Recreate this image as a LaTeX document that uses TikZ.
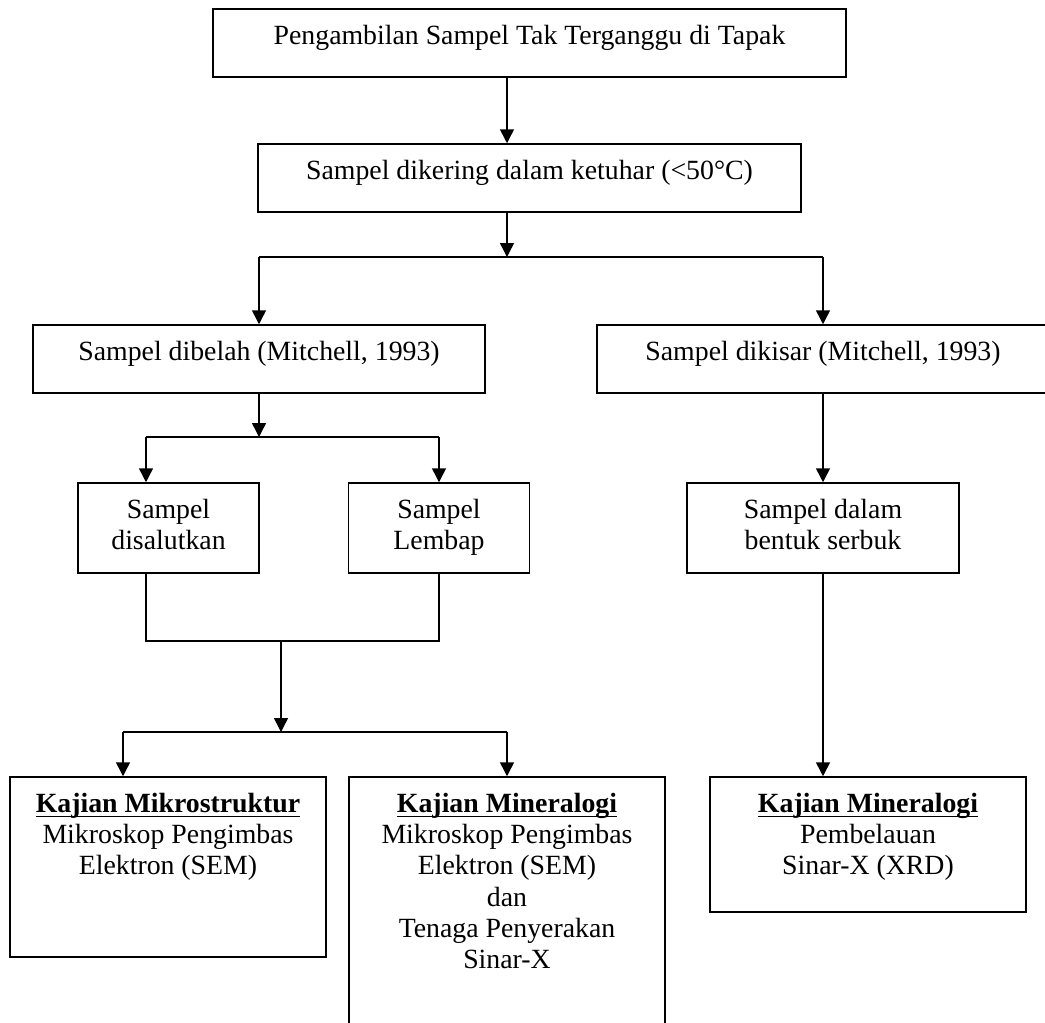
\documentclass[tikz,border=0pt]{standalone}
\usepackage{fontspec}
\setmainfont{Liberation Serif}
\usetikzlibrary{arrows.meta}
\newcommand\myul[1]{\leavevmode\setbox0=\hbox{#1}\rlap{\rule[-5pt]{\wd0}{1.5pt}}\box0}
\newcommand\mlines[2]{\parbox[t]{#1}{\centering #2}}
\begin{document}
\begin{tikzpicture}[x=1pt,y=-1pt,
  box/.style={draw, line width=1.5pt, rectangle, inner sep=0pt},
  lbl/.style={anchor=base, inner sep=0pt, font=\fontsize{27.8}{31.3}\selectfont},
  arr/.style={line width=1.5pt, -{Triangle[length=14pt,width=14pt]}},
  ln/.style={line width=1.5pt}]
\useasboundingbox (0,0) rectangle (1045,1023);
\clip (0,0) rectangle (1045,1023);
% boxes
\node[box, minimum width=633pt, minimum height=68pt] (b1) at (529.5,43) {};
\node[box, minimum width=543pt, minimum height=68pt] (b2) at (529.5,178) {};
\node[box, minimum width=452pt, minimum height=68pt] (dibelah) at (259,359) {};
\node[box, minimum width=452pt, minimum height=68pt] (dikisar) at (823,359) {};
\node[box, minimum width=181pt, minimum height=90pt] (salut) at (168.5,528) {};
\node[box, minimum width=181pt, minimum height=90pt] (lembap) at (439,528) {};
\node[box, minimum width=272pt, minimum height=90pt] (serbuk) at (823,528) {};
\node[box, minimum width=316pt, minimum height=180pt] (mikro) at (168,867) {};
\node[box, minimum width=316pt, minimum height=268pt] (minmid) at (507,911) {};
\node[box, minimum width=316pt, minimum height=135pt] (minright) at (868,844.5) {};
% texts
\node[lbl] (t1) at ([yshift=-36pt]b1.north) {Pengambilan Sampel Tak Terganggu di Tapak};
\node[lbl] (t2) at ([yshift=-36pt]b2.north) {Sampel dikering dalam ketuhar (<50°C)};
\node[lbl] (t3) at ([yshift=-36pt]dibelah.north) {Sampel dibelah (Mitchell, 1993)};
\node[lbl] (t4) at ([yshift=-36pt]dikisar.north) {Sampel dikisar (Mitchell, 1993)};
\node[lbl] (t5) at ([yshift=-36pt]salut.north) {\mlines{180pt}{Sampel\\disalutkan}};
\node[lbl] (t6) at ([yshift=-36pt]lembap.north) {\mlines{180pt}{Sampel\\Lembap}};
\node[lbl] (t7) at ([yshift=-36pt]serbuk.north) {\mlines{270pt}{Sampel dalam\\bentuk serbuk}};
\node[lbl] (t8) at ([yshift=-36pt]mikro.north) {\mlines{314pt}{\myul{\textbf{Kajian Mikrostruktur}}\\Mikroskop Pengimbas\\Elektron (SEM)}};
\node[lbl] (t9) at ([yshift=-36pt]minmid.north) {\mlines{314pt}{\myul{\textbf{Kajian Mineralogi}}\\Mikroskop Pengimbas\\Elektron (SEM)\\dan\\Tenaga Penyerakan\\Sinar-X}};
\node[lbl] (t10) at ([yshift=-36pt]minright.north) {\mlines{314pt}{\myul{\textbf{Kajian Mineralogi}}\\Pembelauan\\Sinar-X (XRD)}};
% junction coordinates
\coordinate (j1) at (507,257);
\coordinate (j2) at (259,437);
\coordinate (j2l) at (146,437);
\coordinate (j2r) at (439,437);
\coordinate (m1) at (146,641);
\coordinate (m2) at (439,641);
\coordinate (mc) at (281,641);
\coordinate (j3) at (281,732);
\coordinate (j3l) at (123,732);
\coordinate (j3r) at (507,732);
% connectors
\draw[arr] (b1.south -| j1) -- (b2.north -| j1);
\draw[arr] (b2.south -| j1) -- (j1);
\draw[ln] (dibelah.north |- j1) -- (dikisar.north |- j1);
\draw[arr] (dibelah.north |- j1) -- (dibelah.north);
\draw[arr] (dikisar.north |- j1) -- (dikisar.north);
\draw[arr] (dibelah.south) -- (j2);
\draw[ln] (j2l) -- (j2r);
\draw[arr] (j2l) -- (salut.north -| j2l);
\draw[arr] (j2r) -- (lembap.north -| j2r);
\draw[ln] (salut.south -| m1) -- (m1) -- (m2) -- (lembap.south -| m2);
\draw[arr] (mc) -- (j3);
\draw[ln] (j3l) -- (j3r);
\draw[arr] (j3l) -- (mikro.north -| j3l);
\draw[arr] (j3r) -- (minmid.north -| j3r);
\draw[arr] (dikisar.south) -- (serbuk.north);
\draw[arr] (serbuk.south) -- (minright.north -| serbuk.south);
\end{tikzpicture}
\end{document}
